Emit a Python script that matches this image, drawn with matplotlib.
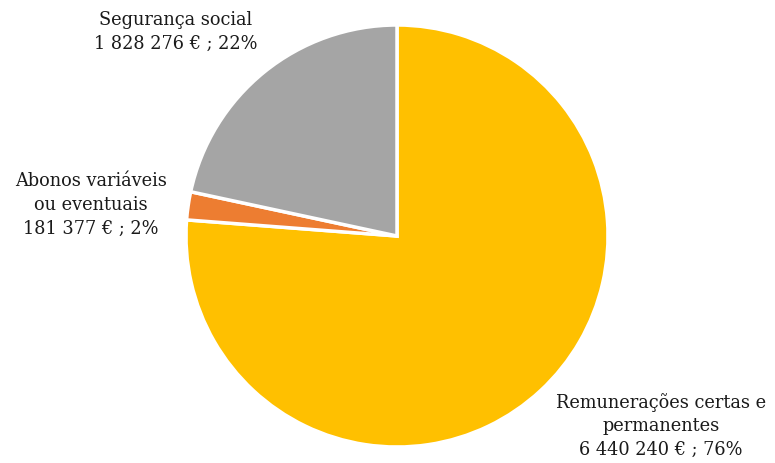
import matplotlib
matplotlib.use("Agg")
import matplotlib.pyplot as plt

categories = ["Remunerações certas e\npermanentes", "Abonos variáveis\nou eventuais", "Segurança social"]
values = [6440240, 181377, 1828276]
value_labels = ["6 440 240 €", "181 377 €", "1 828 276 €"]
percent_labels = ["76%", "2%", "22%"]
colors = ["#FFC000", "#ED7D31", "#A5A5A5"]

fig = plt.figure(figsize=(7.75, 4.64), dpi=100)
ax = fig.add_axes([0, 0, 1, 1])

ax.pie(values, colors=colors, startangle=90, counterclock=False,
       center=(397, 227), radius=211, frame=True,
       wedgeprops=dict(edgecolor="white", linewidth=2.5))
ax.set_xlim(0, 775)
ax.set_ylim(0, 464)
ax.set_aspect("equal")
ax.axis("off")

label_pos = [(661, 38), (91, 259), (176, 432)]
for cat, vl, pl, (x, y) in zip(categories, value_labels, percent_labels, label_pos):
    ax.text(x, y, f"{cat}\n{vl} ; {pl}", ha="center", va="center",
            fontsize=12.8, family="DejaVu Serif", color="#1a1a1a", linespacing=1.42)

fig.savefig("out.png", dpi=100)
